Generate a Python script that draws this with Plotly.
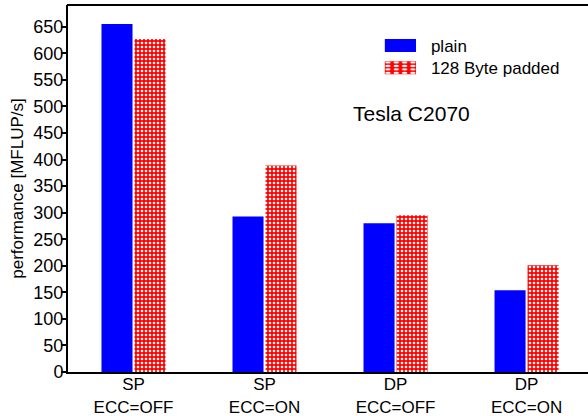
import plotly.graph_objects as go

categories = ["SP<br>ECC=OFF", "SP<br>ECC=ON", "DP<br>ECC=OFF", "DP<br>ECC=ON"]
plain = [655, 293, 280, 154]
padded = [627, 389, 295, 201]
y_ticks = list(range(0, 651, 50))

FONT = "Liberation Sans, Arial, Helvetica, sans-serif"

fig = go.Figure()
fig.add_trace(go.Bar(
    x=categories, y=plain, name="plain",
    marker=dict(color="#0000ff", line=dict(width=0)),
))
fig.add_trace(go.Bar(
    x=categories, y=padded, name="128 Byte padded",
    marker=dict(color="#ff0000", line=dict(width=0),
                pattern=dict(shape=".", bgcolor="#ff0000", fgcolor="#ffffff",
                             size=4, solidity=0.35, fillmode="replace")),
))

fig.update_layout(
    width=588, height=416,
    margin=dict(l=68, r=0, t=5, b=44),
    paper_bgcolor="white", plot_bgcolor="white",
    font=dict(family=FONT, size=17, color="black"),
    barmode="group", bargap=0.496, bargroupgap=0.06,
    showlegend=True,
    legend=dict(x=0.621, y=0.94, xanchor="left", yanchor="top",
                bgcolor="rgba(0,0,0,0)", font=dict(size=17),
                itemwidth=30),
    xaxis=dict(
        range=[-0.5, 3.469], showline=True, linecolor="black", linewidth=2,
        mirror=False, ticks="", showgrid=False, tickfont=dict(size=17),
        ticklabelstandoff=-4, automargin=False,
    ),
    yaxis=dict(
        range=[0, 691], tickvals=y_ticks, showline=True, linecolor="black",
        linewidth=2, ticks="outside", ticklen=5, tickwidth=1.5, tickcolor="black",
        showgrid=False, zeroline=False, tickfont=dict(size=18),
        ticklabelstandoff=-6,
        title=dict(text="performance [MFLUP/s]", font=dict(size=17), standoff=5),
        automargin=False,
    ),
    shapes=[dict(type="line", xref="paper", yref="paper", x0=-0.002, x1=1.0,
                 y0=1, y1=1, line=dict(color="black", width=2))],
    annotations=[dict(
        text="Tesla C2070", xref="paper", yref="paper", x=0.6615, y=0.705,
        xanchor="center", yanchor="middle", showarrow=False,
        font=dict(size=21, color="black"),
    )],
)

post = """
document.body.style.margin = '0';
document.body.style.padding = '0';
document.body.style.overflow = 'hidden';
document.documentElement.style.overflow = 'hidden';
var gd = document.getElementById('{plot_id}');
function fixLegend(){
  gd.querySelectorAll('.legend [clip-path]').forEach(function(e){
    e.removeAttribute('clip-path');
  });
  var items = gd.querySelectorAll('.legend .traces');
  var dy = [1, -2];
  items.forEach(function(it, i){
    if (it.getAttribute('data-orig') === null) {
      it.setAttribute('data-orig', it.getAttribute('transform') || '');
    }
    it.setAttribute('transform', it.getAttribute('data-orig') + ' translate(0,' + (dy[i] || 0) + ')');
    it.querySelectorAll('.legendpoints path').forEach(function(p){
      if (p.getAttribute('data-orig') === null) {
        p.setAttribute('data-orig', p.getAttribute('transform') || '');
      }
      p.setAttribute('transform', p.getAttribute('data-orig') + ' translate(-10.5,0) scale(2.6,1.08)');
    });
  });
}
fixLegend();
if (gd && gd.on) { gd.on('plotly_afterplot', fixLegend); }
setTimeout(fixLegend, 50);
setTimeout(fixLegend, 300);
"""

fig.write_html("out.html", post_script=post, config={"displayModeBar": False})
